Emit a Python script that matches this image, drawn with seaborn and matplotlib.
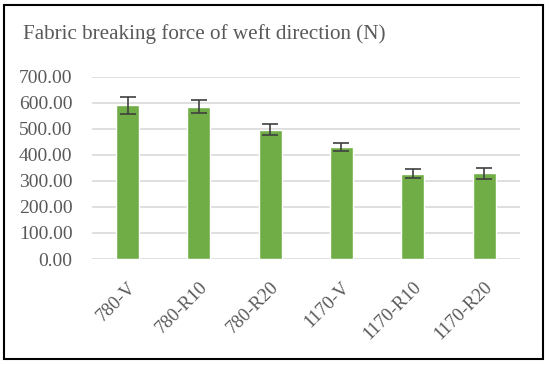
import numpy as np
import pandas as pd
import seaborn as sns
from matplotlib import pyplot as plt
from matplotlib.patches import Rectangle

# values
samples = ['780-V', '780-R10', '780-R20', '1170-V', '1170-R10', '1170-R20']
force = [590, 585, 497, 430, 327, 330]
force_sd = [32, 24, 21, 16, 17, 21]
y_ticks = [0, 100, 200, 300, 400, 500, 600, 700]

df = pd.DataFrame({'sample': samples, 'force': force, 'sd': force_sd})

sns.set_style('white')
plt.rcParams['font.family'] = ['Liberation Serif', 'DejaVu Serif']

fig = plt.figure(figsize=(5.5, 3.66), dpi=100)
ax = fig.add_axes([0.167, 0.2923, 0.778, 0.498])

sns.barplot(data=df, x='sample', y='force', color='#70ad47', width=0.32,
            saturation=1, errorbar=None, ax=ax, zorder=3)
ax.errorbar(x=np.arange(len(samples)), y=df['force'], yerr=df['sd'],
            fmt='none', ecolor='#404040', elinewidth=1.2, capsize=5.5,
            capthick=1.2, zorder=4)

ax.set_ylim(0, 700)
ax.set_xlim(-0.5, len(samples) - 0.5)
ax.set_yticks(y_ticks)
ax.set_yticklabels([f'{v:.2f}' for v in y_ticks], fontsize=14, color='#595959')
ax.set_xticks(np.arange(len(samples)))
ax.set_xticklabels(samples, rotation=45, ha='right', rotation_mode='anchor',
                   fontsize=13.5, color='#595959')
ax.tick_params(axis='y', length=0, pad=14)
ax.tick_params(axis='x', length=0, pad=14)
ax.yaxis.grid(True, color='#d9d9d9', linewidth=1.2, zorder=0)
ax.set_axisbelow(True)
for s in ax.spines.values():
    s.set_visible(False)
ax.set_xlabel('')
ax.set_ylabel('')

fig.text(0.041, 0.908, 'Fabric breaking force of weft direction (N)',
         fontsize=15.2, color='#595959', va='center')

# outer frame
fig.patches.append(Rectangle((0.008, 0.019), 0.979, 0.967, transform=fig.transFigure,
                             fill=False, edgecolor='black', linewidth=1.5))

plt.savefig('out.png', dpi=100)
